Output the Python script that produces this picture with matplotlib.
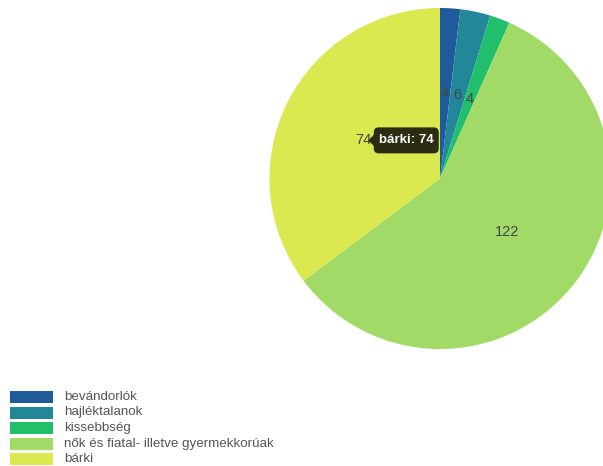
import matplotlib
matplotlib.use("Agg")
import matplotlib.pyplot as plt
from matplotlib.patches import Rectangle, FancyBboxPatch, Polygon
import numpy as np

plt.rcParams['font.family'] = ['Liberation Sans', 'DejaVu Sans']

categories = ["bevándorlók", "hajléktalanok", "kissebbség",
              "nők és fiatal- illetve gyermekkorúak", "bárki"]
values = [4, 6, 4, 122, 74]
colors = ["#1f5a9a", "#23879a", "#21bf6c", "#a1da66", "#dae950"]
tooltip_index = 4

W, H = 603, 466
fig = plt.figure(figsize=(W / 100, H / 100), dpi=100)
ax = fig.add_axes([0, 0, 1, 1])

cx, cy, R = 440, H - 178.5, 170.5
wedges, texts = ax.pie(values, colors=colors, startangle=90, counterclock=False,
                       center=(cx, cy), radius=R,
                       labels=[str(v) for v in values], labeldistance=0.5,
                       wedgeprops=dict(edgecolor="none", linewidth=0),
                       textprops=dict(color="#444444", fontsize=10.5))
for t in texts:
    t.set_ha("center"); t.set_va("center")

ax.set_xlim(0, W)
ax.set_ylim(0, H)
ax.set_aspect("auto")
ax.axis("off")

# legend
y0, dy = 397, 15.5
for i, (c, name) in enumerate(zip(colors, categories)):
    yc = H - (y0 + i * dy)
    ax.add_patch(Rectangle((10, yc - 6), 43, 12, facecolor=c, edgecolor="none"))
    ax.text(64, yc, name, ha="left", va="center", fontsize=9.6, color="#555555")

# tooltip
total = sum(values)
start = sum(values[:tooltip_index])
mid = 90 - (start + values[tooltip_index] / 2) / total * 360
lx = cx + 0.5 * R * np.cos(np.radians(mid))
ly = cy + 0.5 * R * np.sin(np.radians(mid))
bx0, bx1 = lx + 10, lx + 75
by0, by1 = ly - 13, ly + 13
ax.add_patch(FancyBboxPatch((bx0, by0), bx1 - bx0, by1 - by0,
                            boxstyle="round,pad=0,rounding_size=5",
                            facecolor="#2b2c12", edgecolor="none", zorder=5))
ax.add_patch(Polygon([[bx0 + 0.5, ly + 6], [bx0 + 0.5, ly - 6], [bx0 - 5.5, ly]],
                     closed=True, facecolor="#2b2c12", edgecolor="none", zorder=5))
ax.text((bx0 + bx1) / 2, ly, f"{categories[tooltip_index]}: {values[tooltip_index]}",
        ha="center", va="center", color="white", fontsize=9.5, fontweight="bold", zorder=6)

fig.savefig("out.png", dpi=100)
